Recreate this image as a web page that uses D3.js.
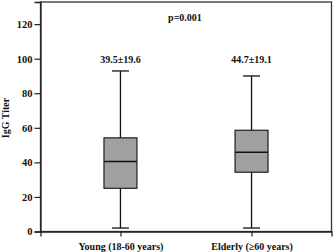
<!DOCTYPE html>
<html><head><meta charset="utf-8">
<script src="https://cdn.jsdelivr.net/npm/d3@7"></script>
<style>body{margin:0;background:#fff}svg{display:block}text{font-family:"Liberation Serif","Times New Roman",serif;font-weight:bold;fill:#111}</style>
</head><body><div id="c"></div>
<script>
const categories = ["Young (18-60 years)", "Elderly (\u226560 years)"];
const whiskerLow = [2, 2];
const q1 = [25, 34.3];
const median = [40.5, 45.9];
const q3 = [54.2, 58.6];
const whiskerHigh = [92.9, 90];
const meanLabels = ["39.5\u00b119.6", "44.7\u00b119.1"];
const yTicks = [0, 20, 40, 60, 80, 100, 120];
const pLabel = "p=0.001";
const yTitle = "IgG Titer";

const W = 333, H = 252;
const m = {l: 40.5, r: 1.5, t: 2, b: 20.5};
const svg = d3.select("#c").append("svg").attr("width", W).attr("height", H);
const y = d3.scaleLinear().domain([0, 132.8]).range([H - m.b, m.t]);
const x = d3.scalePoint().domain(categories).range([m.l, W - m.r]).padding(0.61);

// frame
svg.append("rect").attr("x", m.l).attr("y", m.t).attr("width", W - m.r - m.l).attr("height", H - m.b - m.t)
  .attr("fill", "none").attr("stroke", "#333").attr("stroke-width", 1.3);

const yAxis = svg.append("g").attr("transform", `translate(${m.l},0)`)
  .call(d3.axisLeft(y).tickValues(yTicks).tickSize(6).tickPadding(2));
yAxis.select(".domain").attr("stroke", "#222").attr("stroke-width", 1.3);
yAxis.selectAll("line").attr("stroke", "#222").attr("stroke-width", 1.2);
yAxis.selectAll("text").attr("font-size", 10.5).style("font-family", "Liberation Serif").style("font-weight", "bold").attr("fill", "#111");

const xAxis = svg.append("g").attr("transform", `translate(0,${H - m.b})`)
  .call(d3.axisBottom(x).tickSize(5).tickPadding(6));
xAxis.select(".domain").attr("stroke", "#222").attr("stroke-width", 1.3);
xAxis.selectAll("line").attr("stroke", "#222").attr("stroke-width", 1.2);
xAxis.selectAll("text").attr("font-size", 10).style("font-family", "Liberation Serif").style("font-weight", "bold").attr("fill", "#111");

const bw = 33, cw = 17;
categories.forEach((c, i) => {
  const cx = x(c);
  const g = svg.append("g").attr("stroke", "#111").attr("stroke-width", 1.3);
  g.append("line").attr("x1", cx).attr("x2", cx).attr("y1", y(whiskerLow[i])).attr("y2", y(whiskerHigh[i]));
  g.append("line").attr("x1", cx - cw / 2).attr("x2", cx + cw / 2).attr("y1", y(whiskerLow[i])).attr("y2", y(whiskerLow[i]));
  g.append("line").attr("x1", cx - cw / 2).attr("x2", cx + cw / 2).attr("y1", y(whiskerHigh[i])).attr("y2", y(whiskerHigh[i]));
  g.append("rect").attr("x", cx - bw / 2).attr("width", bw).attr("y", y(q3[i])).attr("height", y(q1[i]) - y(q3[i]))
    .attr("fill", "#a0a0a0").attr("stroke-width", 1.1);
  g.append("line").attr("x1", cx - bw / 2).attr("x2", cx + bw / 2).attr("y1", y(median[i])).attr("y2", y(median[i])).attr("stroke-width", 1.6);
  svg.append("text").attr("x", cx).attr("y", 62.5).attr("text-anchor", "middle").attr("font-size", 10).text(meanLabels[i]);
});

svg.append("text").attr("x", 185).attr("y", 21).attr("text-anchor", "middle").attr("font-size", 10).text(pLabel);
svg.append("text").attr("transform", `translate(9,118) rotate(-90)`).attr("text-anchor", "middle").attr("font-size", 10).text(yTitle);
</script></body></html>
